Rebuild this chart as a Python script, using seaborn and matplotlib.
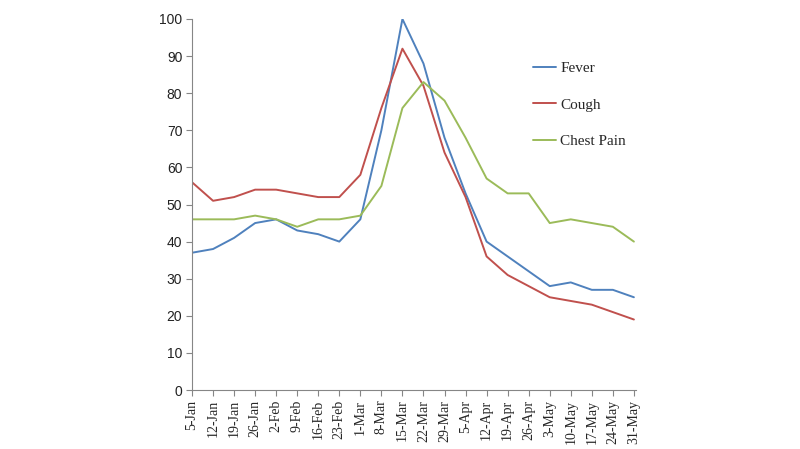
import pandas as pd
import numpy as np
import matplotlib.pyplot as plt
import seaborn as sns

weeks = ["5-Jan", "12-Jan", "19-Jan", "26-Jan", "2-Feb", "9-Feb", "16-Feb", "23-Feb",
         "1-Mar", "8-Mar", "15-Mar", "22-Mar", "29-Mar", "5-Apr", "12-Apr", "19-Apr",
         "26-Apr", "3-May", "10-May", "17-May", "24-May", "31-May"]
fever = [37, 38, 41, 45, 46, 43, 42, 40, 46, 70, 100, 88, 68, 53, 40, 36, 32, 28, 29, 27, 27, 25]
cough = [56, 51, 52, 54, 54, 53, 52, 52, 58, 76, 92, 82, 64, 52, 36, 31, 28, 25, 24, 23, 21, 19]
chest_pain = [46, 46, 46, 47, 46, 44, 46, 46, 47, 55, 76, 83, 78, 68, 57, 53, 53, 45, 46, 45, 44, 40]

df = pd.DataFrame({"Fever": fever, "Cough": cough, "Chest Pain": chest_pain})
df["pos"] = np.arange(len(weeks))
long_df = df.melt(id_vars="pos", var_name="symptom", value_name="value")

sns.set_style("white")
plt.rcParams["font.family"] = ["Liberation Serif", "DejaVu Serif"]

fig = plt.figure(figsize=(8, 4.49), dpi=100)
ax = fig.add_axes([192 / 800, 1 - 390 / 449, (636 - 192) / 800, (390 - 19) / 449])

palette = {"Fever": "#4F81BD", "Cough": "#C0504D", "Chest Pain": "#9BBB59"}
sns.lineplot(data=long_df, x="pos", y="value", hue="symptom", palette=palette,
             linewidth=1.4, ax=ax)

ax.set_xlim(0, 21.1)
ax.set_ylim(0, 100)
ax.set_yticks(range(0, 101, 10))
ax.set_xticks(range(len(weeks)))
ax.set_xticklabels(weeks, rotation=90, fontsize=10)
for lab in ax.get_yticklabels():
    lab.set_family("Liberation Sans")
    lab.set_fontsize(10)
    lab.set_color("#222222")
ax.tick_params(axis="both", direction="out", length=4, width=0.8, color="#868686",
               bottom=True, left=True, pad=3)
ax.set_xlabel("")
ax.set_ylabel("")

sns.despine(ax=ax)
for side in ["left", "bottom"]:
    ax.spines[side].set_color("#868686")
    ax.spines[side].set_linewidth(0.8)

ax.legend(title=None, frameon=False, loc="upper left", bbox_to_anchor=(0.737, 0.922),
          fontsize=11, labelspacing=1.48, handlelength=1.5, handletextpad=0.3)

fig.savefig("out.png", dpi=100)
